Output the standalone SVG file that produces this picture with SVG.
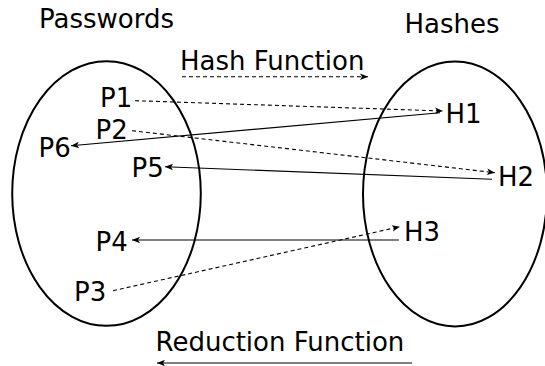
<svg xmlns="http://www.w3.org/2000/svg" width="545" height="366" viewBox="0 0 545 366">
<style>
text{font-family:"DejaVu Sans","Liberation Sans",sans-serif;font-size:26px;fill:#000}
.set{fill:none;stroke:#000;stroke-width:2}
.c{fill:none;stroke:#000;stroke-width:1.1}
.d{stroke-dasharray:4,3}
</style>
<defs>
<marker id="ah" markerUnits="userSpaceOnUse" markerWidth="12" markerHeight="10" viewBox="-9 -5 10 10" refX="0" refY="0" orient="auto">
<path d="M0,0 L-8,-3.2 L-6,0 L-8,3.2 Z" fill="#000"/>
</marker>
</defs>
<rect width="545" height="366" fill="#fff"/>
<g id="passwords">
<ellipse class="set" cx="106.5" cy="193.5" rx="94.3" ry="132.3"/>
<text x="39" y="27.5" font-size="28">Passwords</text>
</g>
<g id="hashes">
<ellipse class="set" cx="455" cy="194" rx="92" ry="132.5"/>
<text x="404.5" y="33" font-size="27.5">Hashes</text>
</g>
<g id="P1"><text x="100" y="106.7">P1</text></g>
<g id="P2"><text x="95.5" y="139">P2</text></g>
<g id="P6"><text x="38.5" y="156.7">P6</text></g>
<g id="P5"><text x="131.5" y="177.3">P5</text></g>
<g id="P4"><text x="95.5" y="251">P4</text></g>
<g id="P3"><text x="74" y="301">P3</text></g>
<g id="H1"><text x="445.5" y="123.3">H1</text></g>
<g id="H2"><text x="498" y="185.7">H2</text></g>
<g id="H3"><text x="404" y="240.7">H3</text></g>
<g id="labels">
<text x="180" y="70" font-size="27">Hash Function</text>
<text x="155.5" y="351" font-size="27">Reduction Function</text>
</g>
<g id="connectors">
<line class="c d" x1="182" y1="76.7" x2="368" y2="76.7" marker-end="url(#ah)"/>
<line class="c" x1="412" y1="363" x2="157" y2="363" marker-end="url(#ah)"/>
<line class="c d" x1="135" y1="100.7" x2="443" y2="111" marker-end="url(#ah)"/>
<line class="c" x1="440" y1="112.7" x2="71" y2="145.7" marker-end="url(#ah)"/>
<line class="c d" x1="132" y1="130.7" x2="495" y2="172.7" marker-end="url(#ah)"/>
<line class="c" x1="492" y1="179.3" x2="165" y2="166.7" marker-end="url(#ah)"/>
<line class="c d" x1="113" y1="290.7" x2="400" y2="226.7" marker-end="url(#ah)"/>
<line class="c" x1="399" y1="240" x2="132" y2="240" marker-end="url(#ah)"/>
</g>
</svg>
